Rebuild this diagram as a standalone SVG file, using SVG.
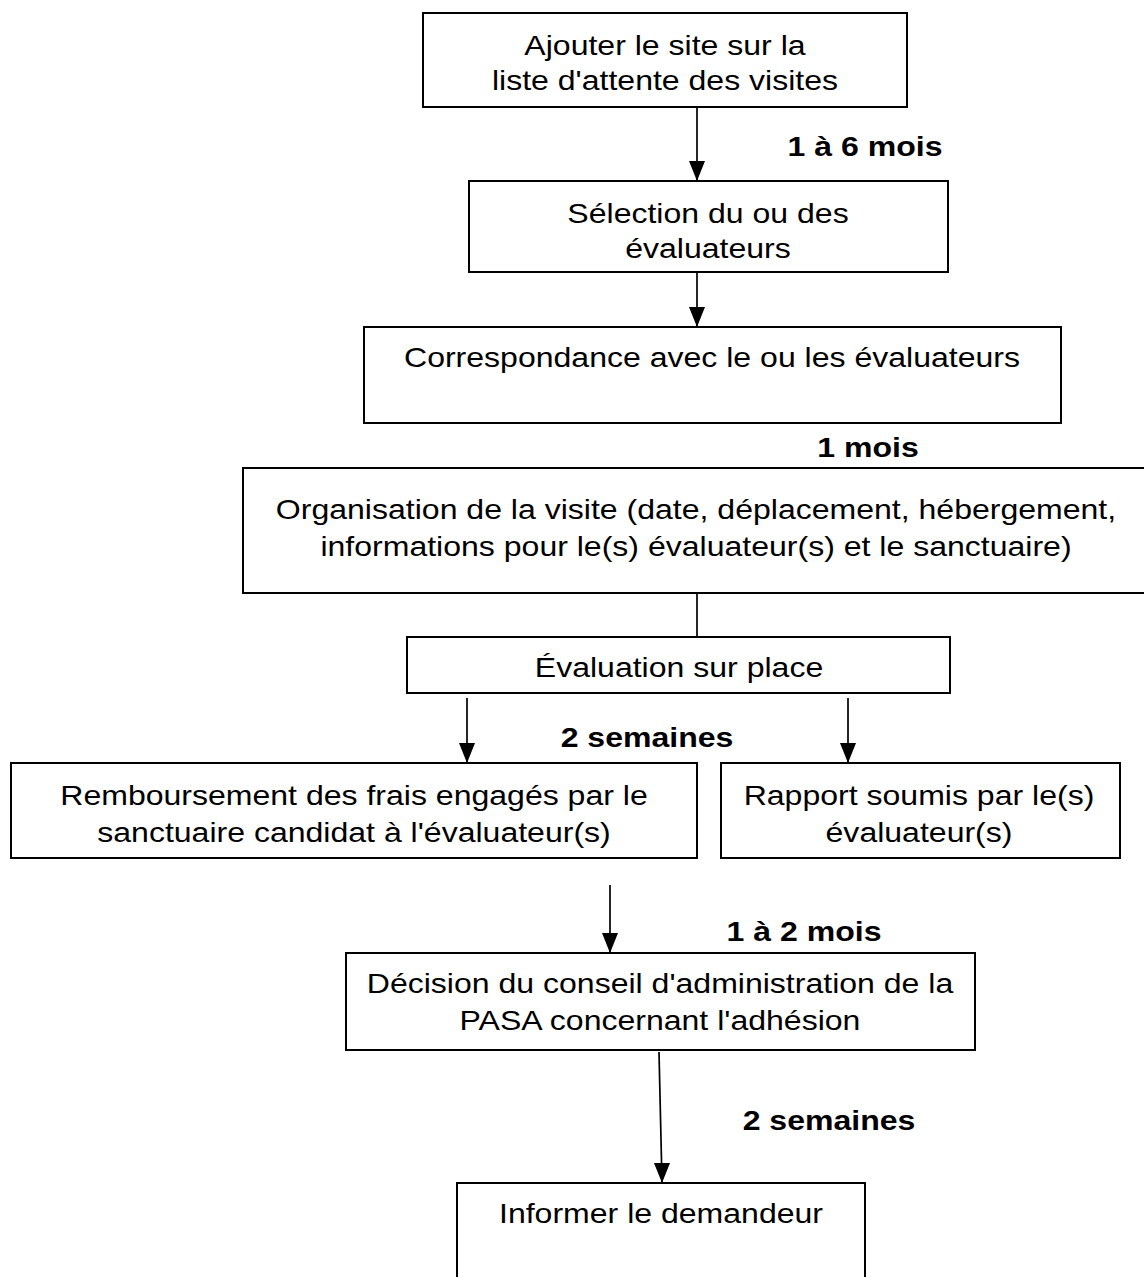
<svg xmlns="http://www.w3.org/2000/svg" width="1144" height="1277" viewBox="0 0 1144 1277">
<style>
.box{fill:#fff;stroke:#000;stroke-width:2}
.t{font-family:"Liberation Sans",Arial,sans-serif;font-size:27.5px;fill:#000;text-anchor:middle}
.b{font-family:"Liberation Sans",Arial,sans-serif;font-size:27.5px;font-weight:bold;fill:#000;text-anchor:middle}
.c{stroke:#000;stroke-width:1.7;fill:none}
</style>
<defs>
<marker id="ah" markerUnits="userSpaceOnUse" markerWidth="16" markerHeight="20" refX="8" refY="20" orient="0" viewBox="0 0 16 20">
<path d="M0,0 L16,0 L8,20 z" fill="#000"/>
</marker>
</defs>
<rect width="1144" height="1277" fill="#fff"/>
<g id="connectors">
<line class="c" x1="697" y1="107" x2="697" y2="181" marker-end="url(#ah)"/>
<line class="c" x1="697" y1="272" x2="697" y2="327" marker-end="url(#ah)"/>
<line class="c" x1="697" y1="565" x2="697" y2="637"/>
<line class="c" x1="467" y1="698" x2="467" y2="763" marker-end="url(#ah)"/>
<line class="c" x1="848" y1="698" x2="848" y2="763" marker-end="url(#ah)"/>
<line class="c" x1="610" y1="885" x2="610" y2="953" marker-end="url(#ah)"/>
<line class="c" x1="659" y1="1052" x2="662" y2="1183" marker-end="url(#ah)"/>
</g>
<g id="labels">
<text class="b" transform="translate(865,156) scale(1.165,1)">1 à 6 mois</text>
<text class="b" transform="translate(868,457) scale(1.165,1)">1 mois</text>
<text class="b" transform="translate(647,747) scale(1.165,1)">2 semaines</text>
<text class="b" transform="translate(804,941) scale(1.165,1)">1 à 2 mois</text>
<text class="b" transform="translate(829,1130) scale(1.165,1)">2 semaines</text>
</g>
<g id="n1">
<rect class="box" x="423" y="13" width="484" height="94"/>
<text class="t" transform="translate(665,55) scale(1.165,1)">Ajouter le site sur la</text>
<text class="t" transform="translate(665,90) scale(1.165,1)">liste d'attente des visites</text>
</g>
<g id="n2">
<rect class="box" x="469" y="181" width="479" height="91"/>
<text class="t" transform="translate(708,223) scale(1.165,1)">Sélection du ou des</text>
<text class="t" transform="translate(708,258) scale(1.165,1)">évaluateurs</text>
</g>
<g id="n3">
<rect class="box" x="364" y="327" width="697" height="96"/>
<text class="t" transform="translate(712,367) scale(1.165,1)">Correspondance avec le ou les évaluateurs</text>
</g>
<g id="n4">
<rect class="box" x="243" y="468" width="907" height="125"/>
<text class="t" transform="translate(696,519) scale(1.165,1)">Organisation de la visite (date, déplacement, hébergement,</text>
<text class="t" transform="translate(696,556) scale(1.165,1)">informations pour le(s) évaluateur(s) et le sanctuaire)</text>
</g>
<g id="n5">
<rect class="box" x="407" y="637" width="543" height="56"/>
<text class="t" transform="translate(679,677) scale(1.165,1)">Évaluation sur place</text>
</g>
<g id="n6">
<rect class="box" x="11" y="763" width="686" height="95"/>
<text class="t" transform="translate(354,805) scale(1.165,1)">Remboursement des frais engagés par le</text>
<text class="t" transform="translate(354,842) scale(1.165,1)">sanctuaire candidat à l'évaluateur(s)</text>
</g>
<g id="n7">
<rect class="box" x="721" y="763" width="399" height="95"/>
<text class="t" transform="translate(919,805) scale(1.165,1)">Rapport soumis par le(s)</text>
<text class="t" transform="translate(919,842) scale(1.165,1)">évaluateur(s)</text>
</g>
<g id="n8">
<rect class="box" x="346" y="953" width="629" height="97"/>
<text class="t" transform="translate(660,993) scale(1.165,1)">Décision du conseil d'administration de la</text>
<text class="t" transform="translate(660,1030) scale(1.165,1)">PASA concernant l'adhésion</text>
</g>
<g id="n9">
<rect class="box" x="457" y="1183" width="408" height="110"/>
<text class="t" transform="translate(661,1223) scale(1.165,1)">Informer le demandeur</text>
</g>
</svg>
